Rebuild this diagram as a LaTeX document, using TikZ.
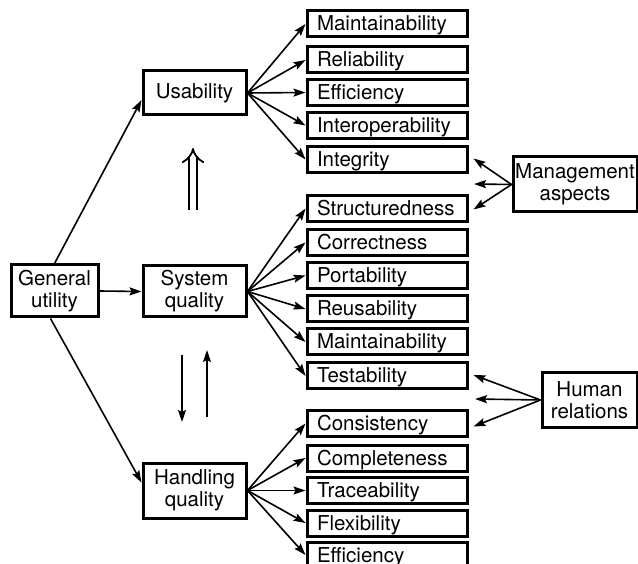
\documentclass[tikz,border=0pt]{standalone}
\usepackage{fontspec}
\setmainfont{TeX Gyre Heros}
\usetikzlibrary{arrows.meta,calc}
\begin{document}
\begin{tikzpicture}[x=1pt,y=-1pt,
  every node/.style={font=\fontsize{20.5}{22}\selectfont},
  qbox/.style={draw, line width=3pt, text width=140pt, inner xsep=10pt, align=left,
    minimum height=26pt, text height=16pt, text depth=2pt, inner ysep=0pt},
  mbox/.style={draw, line width=3pt, align=center, inner sep=0pt},
  arr/.style={line width=1.6pt, -{Stealth[length=12pt,width=8pt,inset=2pt]}},
]
\useasboundingbox (0,0) rectangle (638,564);

% left boxes
\node[mbox, minimum width=87pt, minimum height=52pt] (gen) at (54.5,291) {General\\utility};
\node[mbox, minimum width=103pt, minimum height=44pt] (usa) at (194.5,93) {Usability};
\node[mbox, minimum width=103pt, minimum height=51pt] (sys) at (194.5,291.5) {System\\quality};
\node[mbox, minimum width=103pt, minimum height=55pt] (hand) at (194.5,490.5) {Handling\\quality};

% right column
\node[qbox] (u1) at (387,24) {Maintainability};
\node[qbox] (u2) at (387,60) {Reliability};
\node[qbox] (u3) at (387,92.5) {Efficiency};
\node[qbox] (u4) at (387,125.5) {Interoperability};
\node[qbox] (u5) at (387,159.5) {Integrity};
\node[qbox] (s1) at (387,208.5) {Structuredness};
\node[qbox] (s2) at (387,242.5) {Correctness};
\node[qbox] (s3) at (387,275.5) {Portability};
\node[qbox] (s4) at (387,309) {Reusability};
\node[qbox] (s5) at (387,342) {Maintainability};
\node[qbox] (s6) at (387,376) {Testability};
\node[qbox] (h1) at (387,423.5) {Consistency};
\node[qbox] (h2) at (387,458) {Completeness};
\node[qbox] (h3) at (387,490.5) {Traceability};
\node[qbox] (h4) at (387,523) {Flexibility};
\node[qbox] (h5) at (387,555) {Efficiency};

% side boxes
\node[mbox, minimum width=124pt, minimum height=55pt] (mgmt) at (575,184.5) {Management\\aspects};
\node[mbox, minimum width=95pt, minimum height=54pt] (hum) at (589.5,400) {Human\\relations};

% general utility arrows
\draw[arr] (gen.north) -- ($(usa.west)+(0,7)$);
\draw[arr] (gen.east) -- (sys.west);
\draw[arr] ($(gen.south)+(-4,0)$) -- ($(hand.west)+(0,-8)$);

% fan-outs
\foreach \t in {u1,u2,u3,u4,u5} \draw[arr] (usa.east) -- (\t.west);
\foreach \t in {s1,s2,s3,s4,s5,s6} \draw[arr] (sys.east) -- (\t.west);
\foreach \t in {h1,h2,h3,h4,h5} \draw[arr] (hand.east) -- (\t.west);

% management aspects
\coordinate (mmid) at (474,184);
\draw[arr] (mgmt.west) -- ($(u5.east)+(5,-1)$);
\draw[arr] (mgmt.west) -- (mmid);
\draw[arr] (mgmt.west) -- ($(s1.east)+(5,1)$);

% human relations
\coordinate (hmid) at (475,399);
\draw[arr] (hum.west) -- ($(s6.east)+(5,-1)$);
\draw[arr] (hum.west) -- (hmid);
\draw[arr] (hum.west) -- ($(h1.east)+(5,3)$);

% vertical arrows between left boxes
\coordinate (dA) at (193,210);
\coordinate (dB) at (193,148);
\draw[double, double distance=6pt, line width=1.8pt, -{Implies[length=11pt,width=20pt]}] (dA) -- (dB);
\coordinate (a1) at (182,355);
\coordinate (a2) at (182,422);
\coordinate (b1) at (207,417);
\coordinate (b2) at (207,350);
\draw[arr] (a1) -- (a2);
\draw[arr] (b1) -- (b2);
\end{tikzpicture}
\end{document}
